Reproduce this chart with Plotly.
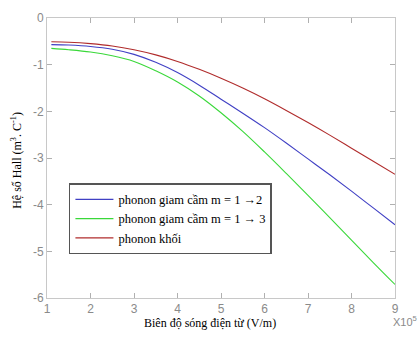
import plotly.graph_objects as go

x_vals = [1.1, 1.5, 2, 2.5, 3, 3.5, 4, 4.5, 5, 5.5, 6, 6.5, 7, 7.5, 8, 8.5, 9]
blue_m12 = [-0.57, -0.58, -0.61, -0.67, -0.78, -0.95, -1.17, -1.44, -1.74, -2.04, -2.35, -2.68, -3.02, -3.36, -3.71, -4.07, -4.43]
green_m13 = [-0.65, -0.68, -0.73, -0.81, -0.93, -1.13, -1.37, -1.67, -2.03, -2.43, -2.87, -3.33, -3.80, -4.28, -4.76, -5.24, -5.71]
red_bulk = [-0.51, -0.52, -0.55, -0.60, -0.68, -0.79, -0.93, -1.10, -1.29, -1.50, -1.73, -1.98, -2.24, -2.51, -2.79, -3.07, -3.35]

names = ["phonon giam cầm m = 1 →2", "phonon giam cầm m = 1 → 3", "phonon khối"]
colors = ["#4040c4", "#3ad83a", "#b02c2c"]

x_ticks = [1, 2, 3, 4, 5, 6, 7, 8, 9]
x_ticktext = ["1", "2", "3", "4", "5", "6", "7", "8", "9"]
y_ticks = [0, -1, -2, -3, -4, -5, -6]
y_ticktext = ["0", "-1", "-2", "-3", "-4", "-5", "-6"]

SERIF = "Times New Roman, Liberation Serif, DejaVu Serif, serif"
SANS = "Arial, Liberation Sans, sans-serif"

fig = go.Figure()
for name, ys, c in zip(names, [blue_m12, green_m13, red_bulk], colors):
    fig.add_trace(go.Scatter(x=x_vals, y=ys, mode="lines", name=name,
                             line=dict(color=c, width=1.1, shape="spline", smoothing=1.0)))

axis_common = dict(showgrid=False, zeroline=False, showline=True, linecolor="#c8c8c8",
                   linewidth=1, mirror="ticks", ticks="inside", ticklen=5,
                   tickcolor="#b0b0b0",
                   tickfont=dict(family=SANS, size=12, color="#8a8a8a"))

fig.update_xaxes(range=[1, 9], tickvals=x_ticks, ticktext=x_ticktext, **axis_common)
fig.update_yaxes(range=[-6, 0], tickvals=y_ticks, ticktext=y_ticktext, **axis_common)

fig.update_layout(
    width=418, height=337,
    margin=dict(l=47, r=23, t=11, b=39),
    plot_bgcolor="white", paper_bgcolor="white",
    showlegend=True,
    font=dict(family=SERIF),
    legend=dict(x=0.063, y=0.41, xanchor="left", yanchor="top",
                bordercolor="#555555", borderwidth=1.5, bgcolor="white",
                font=dict(family=SERIF, size=12.5, color="black"),
                tracegroupgap=0, itemwidth=38),
    annotations=[
        dict(text="Biên độ sóng điện từ (V/m)", xref="paper", yref="paper",
             x=(210 - 47) / 348, y=-0.091, xanchor="center", yanchor="middle", showarrow=False,
             font=dict(family=SERIF, size=12, color="black")),
        dict(text="Hệ số Hall (m<sup>3</sup>. C<sup>-1</sup>)", xref="paper", yref="paper",
             x=-(47 - 17) / 348, y=0.49, xanchor="center", yanchor="middle", textangle=-90,
             showarrow=False,
             font=dict(family=SERIF, size=12, color="black")),
        dict(text="X10<sup>5</sup>", xref="paper", yref="paper",
             x=1.0, y=-0.05, xanchor="left", yanchor="top", showarrow=False, xshift=-4,
             font=dict(family=SANS, size=11, color="#8a8a8a")),
    ],
)

fig.write_html("out.html")
